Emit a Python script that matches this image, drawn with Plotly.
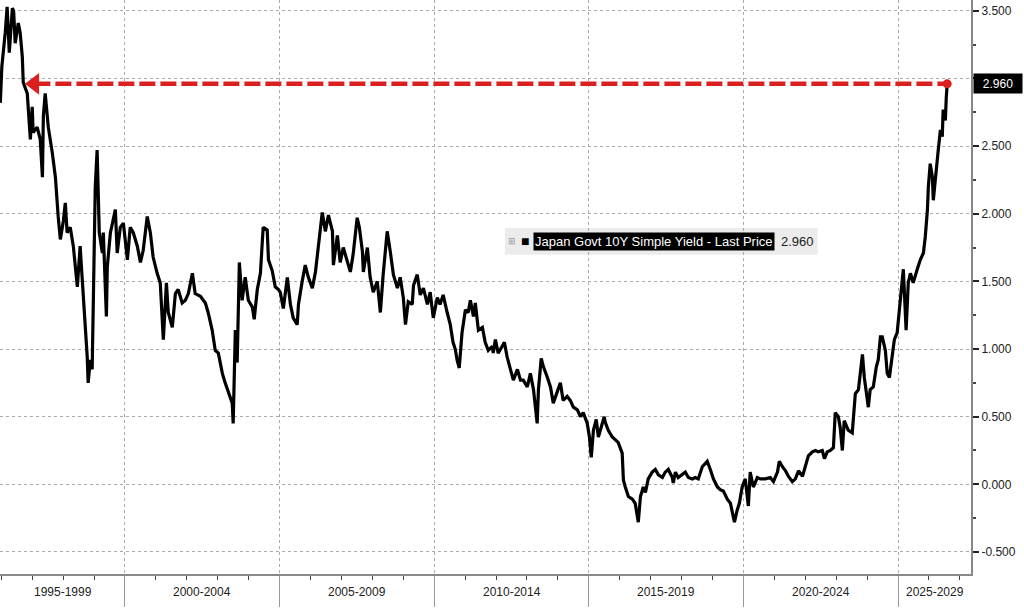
import pandas as pd
import plotly.graph_objects as go

# Japan Govt 10Y simple yield (decimal year, yield %)
years = [
    1995.97, 1996.02, 1996.13, 1996.19, 1996.26, 1996.36, 1996.40, 1996.45, 1996.55, 1996.61,
    1996.68, 1996.71, 1996.84, 1996.94, 1997.00, 1997.03, 1997.16, 1997.26, 1997.33, 1997.36,
    1997.42, 1997.52, 1997.65, 1997.75, 1997.84, 1997.91, 1998.01, 1998.07, 1998.13, 1998.23,
    1998.33, 1998.46, 1998.55, 1998.65, 1998.78, 1998.81, 1998.88, 1998.94, 1998.98, 1999.04,
    1999.10, 1999.17, 1999.27, 1999.30, 1999.40, 1999.43, 1999.53, 1999.69, 1999.75, 1999.85,
    1999.95, 2000.08, 2000.17, 2000.27, 2000.40, 2000.50, 2000.59, 2000.72, 2000.82, 2000.91,
    2001.04, 2001.14, 2001.24, 2001.34, 2001.40, 2001.53, 2001.63, 2001.72, 2001.85, 2001.95,
    2002.05, 2002.18, 2002.27, 2002.44, 2002.60, 2002.69, 2002.82, 2002.92, 2003.02, 2003.15,
    2003.24, 2003.34, 2003.47, 2003.50, 2003.57, 2003.63, 2003.70, 2003.79, 2003.89, 2003.99,
    2004.12, 2004.18, 2004.28, 2004.38, 2004.47, 2004.60, 2004.64, 2004.76, 2004.86, 2004.96,
    2005.02, 2005.12, 2005.25, 2005.35, 2005.44, 2005.57, 2005.61, 2005.73, 2005.83, 2005.93,
    2006.06, 2006.16, 2006.25, 2006.38, 2006.48, 2006.58, 2006.71, 2006.74, 2006.87, 2006.96,
    2007.06, 2007.19, 2007.29, 2007.38, 2007.51, 2007.58, 2007.68, 2007.71, 2007.84, 2007.93,
    2008.03, 2008.16, 2008.26, 2008.35, 2008.48, 2008.58, 2008.68, 2008.81, 2008.90, 2009.00,
    2009.07, 2009.16, 2009.29, 2009.33, 2009.45, 2009.55, 2009.65, 2009.78, 2009.87, 2009.97,
    2010.10, 2010.19, 2010.29, 2010.42, 2010.52, 2010.61, 2010.68, 2010.74, 2010.81, 2010.90,
    2011.01, 2011.10, 2011.17, 2011.27, 2011.33, 2011.43, 2011.56, 2011.65, 2011.75, 2011.88,
    2011.91, 2011.98, 2012.07, 2012.20, 2012.27, 2012.36, 2012.46, 2012.56, 2012.69, 2012.79,
    2012.88, 2013.01, 2013.11, 2013.21, 2013.33, 2013.37, 2013.46, 2013.53, 2013.66, 2013.76,
    2013.85, 2013.98, 2014.08, 2014.17, 2014.30, 2014.40, 2014.50, 2014.63, 2014.73, 2014.82,
    2014.95, 2015.02, 2015.08, 2015.15, 2015.24, 2015.31, 2015.44, 2015.50, 2015.53, 2015.63,
    2015.76, 2015.86, 2015.95, 2016.08, 2016.12, 2016.18, 2016.28, 2016.41, 2016.50, 2016.60,
    2016.67, 2016.76, 2016.83, 2016.92, 2017.05, 2017.15, 2017.25, 2017.38, 2017.47, 2017.57,
    2017.70, 2017.73, 2017.80, 2017.89, 2018.02, 2018.12, 2018.22, 2018.35, 2018.44, 2018.54,
    2018.67, 2018.77, 2018.83, 2018.93, 2019.03, 2019.16, 2019.25, 2019.35, 2019.48, 2019.58,
    2019.71, 2019.80, 2019.87, 2019.96, 2020.06, 2020.16, 2020.22, 2020.32, 2020.45, 2020.55,
    2020.71, 2020.87, 2020.97, 2021.10, 2021.16, 2021.26, 2021.36, 2021.45, 2021.58, 2021.68,
    2021.78, 2021.91, 2022.00, 2022.10, 2022.23, 2022.33, 2022.42, 2022.55, 2022.62, 2022.71,
    2022.81, 2022.91, 2022.97, 2023.07, 2023.13, 2023.20, 2023.26, 2023.39, 2023.52, 2023.55,
    2023.62, 2023.72, 2023.78, 2023.85, 2023.91, 2023.98, 2024.04, 2024.10, 2024.20, 2024.30,
    2024.36, 2024.43, 2024.49, 2024.59, 2024.65, 2024.72, 2024.81, 2024.88, 2024.97, 2025.07,
    2025.17, 2025.26, 2025.33, 2025.40, 2025.49, 2025.62, 2025.72, 2025.82, 2025.88, 2025.95,
    2025.98, 2026.04, 2026.11, 2026.14, 2026.21, 2026.27, 2026.30, 2026.37, 2026.43, 2026.46,
    2026.53, 2026.56, 2026.59,
]
yields = [
    2.82, 3.09, 3.34, 3.53, 3.19, 3.52, 3.50, 3.26, 3.41, 3.34,
    3.16, 2.97, 2.89, 2.55, 2.79, 2.60, 2.64, 2.55, 2.27, 2.72,
    2.89, 2.64, 2.45, 2.27, 1.98, 1.81, 1.95, 2.08, 1.86, 1.90,
    1.76, 1.46, 1.76, 1.41, 0.94, 0.75, 0.92, 0.85, 1.36, 2.20,
    2.47, 1.86, 1.71, 1.86, 1.24, 1.61, 1.86, 2.03, 1.71, 1.90,
    1.93, 1.66, 1.90, 1.86, 1.76, 1.64, 1.73, 1.98, 1.86, 1.68,
    1.56, 1.49, 1.07, 1.49, 1.27, 1.16, 1.41, 1.44, 1.34, 1.36,
    1.41, 1.56, 1.41, 1.39, 1.34, 1.27, 1.14, 0.99, 0.97, 0.82,
    0.75, 0.68, 0.60, 0.45, 1.14, 0.90, 1.64, 1.36, 1.53, 1.36,
    1.31, 1.22, 1.44, 1.56, 1.90, 1.88, 1.66, 1.58, 1.46, 1.44,
    1.42, 1.30, 1.53, 1.33, 1.23, 1.18, 1.33, 1.50, 1.62, 1.53,
    1.45, 1.57, 1.77, 2.01, 1.87, 1.99, 1.87, 1.62, 1.84, 1.64,
    1.75, 1.64, 1.57, 1.70, 1.97, 1.90, 1.72, 1.57, 1.75, 1.53,
    1.42, 1.50, 1.27, 1.55, 1.87, 1.72, 1.55, 1.45, 1.53, 1.38,
    1.18, 1.35, 1.33, 1.47, 1.55, 1.40, 1.45, 1.33, 1.42, 1.23,
    1.38, 1.33, 1.40, 1.27, 1.18, 1.05, 1.00, 0.92, 0.86, 1.12,
    1.29, 1.27, 1.36, 1.24, 1.34, 1.14, 1.16, 1.05, 0.99, 1.02,
    0.97, 1.07, 0.97, 1.02, 1.05, 0.94, 0.85, 0.77, 0.85, 0.77,
    0.77, 0.72, 0.82, 0.70, 0.45, 0.70, 0.93, 0.87, 0.79, 0.72,
    0.60, 0.68, 0.75, 0.62, 0.65, 0.62, 0.57, 0.55, 0.50, 0.53,
    0.45, 0.35, 0.20, 0.40, 0.48, 0.35, 0.45, 0.50, 0.46, 0.40,
    0.35, 0.33, 0.31, 0.23, 0.03, -0.02, -0.09, -0.11, -0.14, -0.28,
    -0.09, -0.02, -0.06, 0.04, 0.09, 0.11, 0.07, 0.05, 0.09, 0.11,
    0.05, 0.01, 0.09, 0.05, 0.07, 0.09, 0.05, 0.04, 0.05, 0.04,
    0.13, 0.16, 0.17, 0.11, 0.04, -0.02, -0.04, -0.05, -0.11, -0.14,
    -0.28, -0.19, -0.14, -0.02, 0.04, -0.16, 0.09, -0.02, 0.05, 0.04,
    0.04, 0.05, 0.02, 0.09, 0.17, 0.13, 0.10, 0.06, 0.02, 0.04,
    0.10, 0.06, 0.13, 0.21, 0.24, 0.25, 0.24, 0.25, 0.19, 0.24,
    0.25, 0.27, 0.53, 0.50, 0.42, 0.25, 0.47, 0.40, 0.38, 0.45,
    0.67, 0.70, 0.82, 0.96, 0.79, 0.67, 0.57, 0.70, 0.72, 0.87,
    0.92, 1.09, 1.09, 0.99, 0.82, 0.79, 0.94, 1.07, 1.12, 1.34,
    1.59, 1.14, 1.49, 1.56, 1.49, 1.59, 1.66, 1.71, 1.83, 2.03,
    2.20, 2.37, 2.27, 2.10, 2.24, 2.40, 2.47, 2.62, 2.57, 2.77,
    2.69, 2.86, 2.96,
]

periods = ['1995-1999', '2000-2004', '2005-2009', '2010-2014',
           '2015-2019', '2020-2024', '2025-2029']
y_ticks = [-0.5, 0.0, 0.5, 1.0, 1.5, 2.0, 2.5, 3.0, 3.5]
last_price = 2.960
arrow_from = 1997.07   # where the red arrow points back to
x_range = [1995.96, 2027.36]
y_range = [-0.663, 3.58]


def to_date(t):
    y = int(t)
    start = pd.Timestamp(year=y, month=1, day=1)
    end = pd.Timestamp(year=y + 1, month=1, day=1)
    return start + (end - start) * (t - y)


dates = [to_date(t) for t in years]
red = '#db2020'

fig = go.Figure()

fig.add_trace(go.Scatter(
    x=dates, y=yields, mode='lines',
    line=dict(color='black', width=3.2),
    name='Japan Govt 10Y Simple Yield - Last Price',
))

# dashed red arrow back to the 1996 level
fig.add_trace(go.Scatter(
    x=[to_date(arrow_from), dates[-1]], y=[last_price, last_price],
    mode='lines', line=dict(color=red, width=4.5, dash='16px,5px'),
))
fig.add_trace(go.Scatter(
    x=[to_date(arrow_from)], y=[last_price], mode='markers',
    marker=dict(symbol='triangle-left', size=19, color=red),
))
fig.add_trace(go.Scatter(
    x=[dates[-1]], y=[last_price], mode='markers',
    marker=dict(symbol='circle', size=9, color=red),
))

# period labels centred in the visible part of each block
annotations = []
lo, hi = x_range
for p in periods:
    a, b = int(p[:4]), int(p[5:]) + 1
    c = (max(a, lo) + min(b, hi)) / 2
    annotations.append(dict(
        x=to_date(c), y=-0.031, xref='x', yref='paper', text=p,
        xanchor='center', yanchor='middle',
        showarrow=False, font=dict(size=12, color='#222'),
    ))

# last price tag on the right axis (it hides the 3.000 label)
annotations.append(dict(
    x=1.002, xref='paper', xanchor='left', y=last_price, yref='y',
    yanchor='middle', text='%.3f' % last_price, showarrow=False,
    bgcolor='black', width=44, height=15, align='center',
    font=dict(size=12, color='white'), borderpad=2,
))

# in-chart legend
leg_y = 0.580
annotations += [
    dict(x=0.527, y=leg_y, xref='paper', yref='paper', text='⊞', showarrow=False,
         xanchor='center', yanchor='middle', font=dict(size=9, color='#999')),
    dict(x=0.541, y=leg_y, xref='paper', yref='paper', text='■', showarrow=False,
         xanchor='center', yanchor='middle', font=dict(size=14, color='black')),
    dict(x=0.549, y=leg_y, xref='paper', yref='paper', xanchor='left',
         yanchor='middle', text='Japan Govt 10Y Simple Yield - Last Price',
         showarrow=False, bgcolor='black',
         font=dict(size=13, color='white'), borderpad=1),
    dict(x=0.802, y=leg_y, xref='paper', yref='paper', xanchor='left',
         yanchor='middle', text='%.3f' % last_price, showarrow=False,
         font=dict(size=13, color='#222')),
]

fig.update_layout(
    width=1024, height=608,
    margin=dict(l=0, r=53, t=0, b=34),
    paper_bgcolor='white', plot_bgcolor='white',
    font=dict(family='Liberation Sans', size=12, color='#222'),
    showlegend=False,
    annotations=annotations,
    shapes=[dict(type='rect', xref='paper', yref='paper',
                 x0=0.520, x1=0.842, y0=0.556, y1=0.603,
                 fillcolor='#ececec', line=dict(width=0), layer='below')],
    xaxis=dict(
        type='date', range=[to_date(lo), to_date(hi)],
        tickmode='array',
        tickvals=[pd.Timestamp(year=y, month=1, day=1) for y in range(2000, 2030, 5)],
        ticktext=[''] * 6,
        ticks='outside', ticklen=31, tickwidth=1, tickcolor='#999',
        showgrid=True, gridcolor='#aaa', griddash='dot', gridwidth=1,
        showline=True, linecolor='#888', linewidth=2,
        minor=dict(tickmode='linear', tick0='1996-01-01', dtick='M12',
                   ticks='outside', ticklen=4, tickcolor='#444', showgrid=False),
        zeroline=False, automargin=False, fixedrange=True,
    ),
    yaxis=dict(
        side='right', range=y_range,
        tickmode='array', tickvals=y_ticks,
        ticktext=['' if v == 3.0 else '%.3f' % v for v in y_ticks],
        ticks='outside', ticklen=6, tickwidth=2, tickcolor='#222',
        showgrid=True, gridcolor='#aaa', griddash='dot', gridwidth=1,
        showline=True, linecolor='#888', linewidth=2,
        minor=dict(tickmode='linear', tick0=0, dtick=0.25, ticks='outside',
                   ticklen=3, tickcolor='#444', showgrid=False),
        zeroline=False, automargin=False, fixedrange=True,
        tickfont=dict(size=12, color='#222'),
    ),
)

fig.write_html("out.html", config={'displayModeBar': False},
               post_script="document.body.style.margin='0';"
                           "document.body.style.overflow='hidden';")
